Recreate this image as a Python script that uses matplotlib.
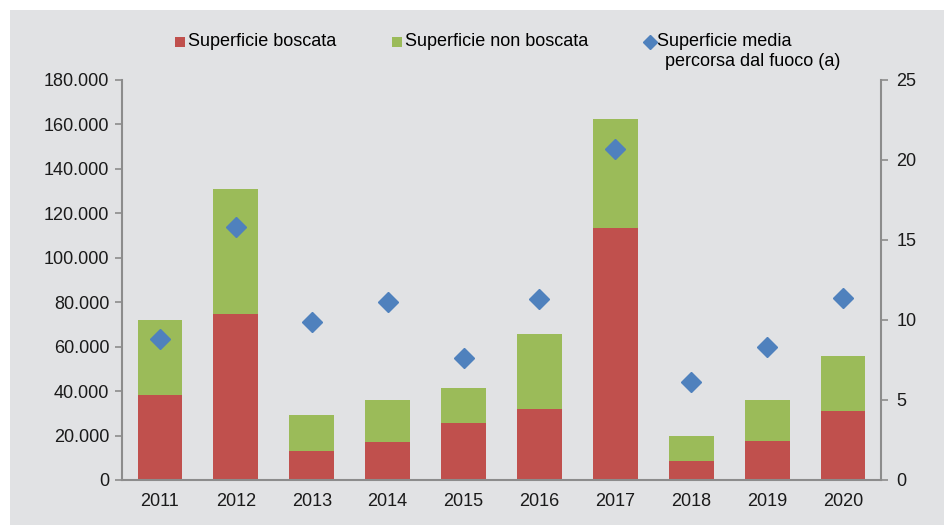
import matplotlib
matplotlib.use("Agg")
import matplotlib.pyplot as plt
from matplotlib.patches import Rectangle
from matplotlib.lines import Line2D
import numpy as np

plt.rcParams['font.family'] = ['Liberation Sans', 'DejaVu Sans']

years = ["2011", "2012", "2013", "2014", "2015", "2016", "2017", "2018", "2019", "2020"]
boscata = [38250, 74700, 13200, 17250, 25800, 31950, 113550, 8550, 17550, 30900]
non_boscata = [33750, 56250, 15900, 18900, 15600, 33600, 48900, 11100, 18600, 24750]
media = [8.8, 15.8, 9.9, 11.1, 7.6, 11.3, 20.7, 6.1, 8.3, 11.4]

left_ticks = [0, 20000, 40000, 60000, 80000, 100000, 120000, 140000, 160000, 180000]
right_ticks = [0, 5, 10, 15, 20, 25]

RED = "#C0504D"
GREEN = "#9BBB59"
BLUE = "#4F81BD"
BG = "#E1E2E4"
AXC = "#8C8C8C"
FS = 13

fig = plt.figure(figsize=(9.44, 5.25), dpi=100)
fig.patch.set_facecolor("white")
fig.add_artist(Rectangle((10 / 944, 0), 1, 1 - 10 / 525, transform=fig.transFigure,
                         facecolor=BG, edgecolor="none", zorder=-10))

ax = fig.add_axes([122 / 944, 45 / 525, (881 - 122) / 944, 400 / 525])
ax.set_facecolor("none")
x = np.arange(len(years))
w = 0.59
ax.bar(x, boscata, w, color=RED, zorder=2)
ax.bar(x, non_boscata, w, bottom=boscata, color=GREEN, zorder=2)
ax.set_xlim(-0.5, len(years) - 0.5)
ax.set_ylim(0, 180000)
ax.set_yticks(left_ticks)
ax.set_yticklabels([f"{v:,.0f}".replace(",", ".") for v in left_ticks])
ax.set_xticks(x)
ax.set_xticklabels(years)

ax2 = ax.twinx()
ax2.set_ylim(0, 25)
ax2.set_yticks(right_ticks)
ax2.plot(x, media, linestyle="none", marker="D", markersize=10, color=BLUE,
         markeredgecolor=BLUE, zorder=3)

for a in (ax, ax2):
    for s in a.spines.values():
        s.set_visible(False)
        s.set_color(AXC)
        s.set_linewidth(1.5)
ax.spines["left"].set_visible(True)
ax.spines["bottom"].set_visible(True)
ax2.spines["right"].set_visible(True)
ax.tick_params(axis="y", direction="out", length=5, width=1.2, color=AXC, pad=4,
               labelsize=FS, labelcolor="#1A1A1A")
ax.tick_params(axis="x", length=0, pad=9, labelsize=FS, labelcolor="#1A1A1A")
ax2.tick_params(axis="y", direction="out", length=5, width=1.2, color=AXC, pad=6,
                labelsize=FS, labelcolor="#1A1A1A")

# legend (manual placement)
ly = 1 - 42 / 525
fig.add_artist(Rectangle((175 / 944, ly - 5 / 525), 10 / 944, 10 / 525,
                         transform=fig.transFigure, facecolor=RED, edgecolor="none"))
fig.text(188 / 944, ly, "Superficie boscata", fontsize=FS, va="center", ha="left")
fig.add_artist(Rectangle((392 / 944, ly - 5 / 525), 10 / 944, 10 / 525,
                         transform=fig.transFigure, facecolor=GREEN, edgecolor="none"))
fig.text(405 / 944, ly, "Superficie non boscata", fontsize=FS, va="center", ha="left")
fig.add_artist(Line2D([650 / 944], [ly], transform=fig.transFigure, marker="D",
                      markersize=7, color=BLUE, linestyle="none"))
fig.text(657 / 944, ly, "Superficie media", fontsize=FS, va="center", ha="left")
fig.text(665 / 944, 1 - 62 / 525, "percorsa dal fuoco (a)", fontsize=FS, va="center", ha="left")

fig.savefig("out.png", dpi=100)
